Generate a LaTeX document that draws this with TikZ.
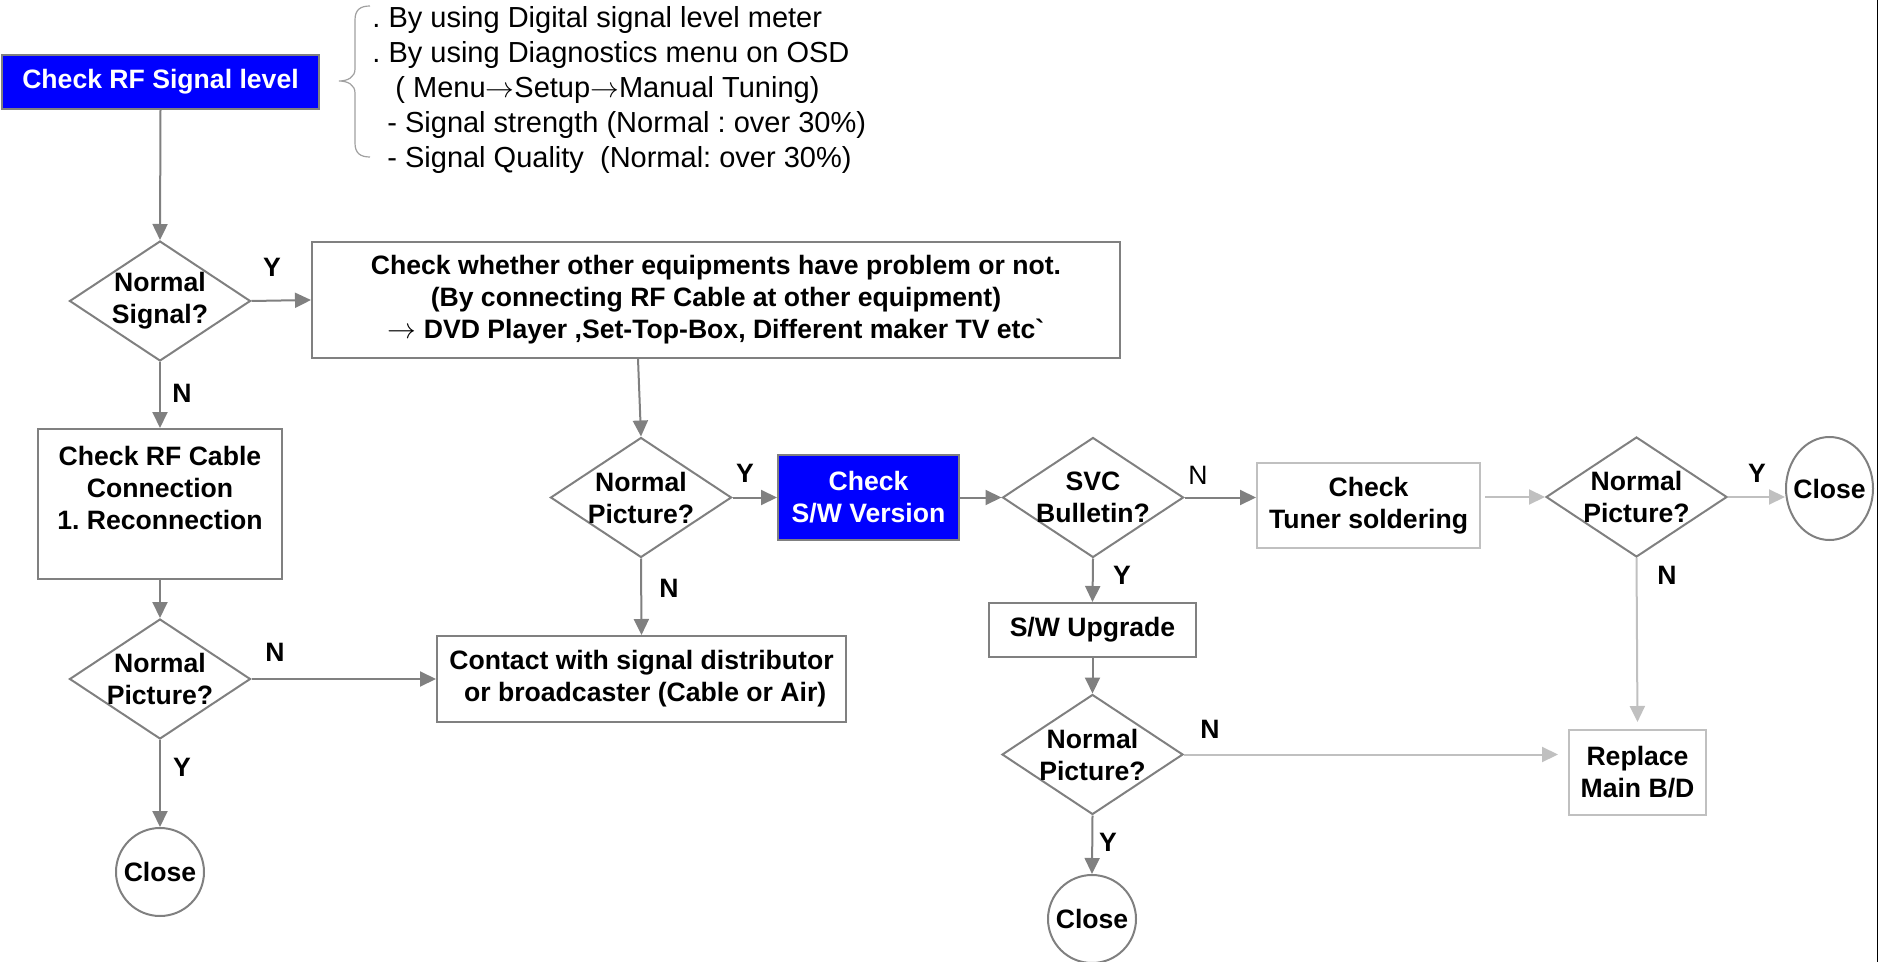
\documentclass[tikz,border=0pt]{standalone}
\usepackage{fontspec}
\setmainfont{Liberation Sans}
\usetikzlibrary{arrows.meta,shapes.geometric,calc}
\frenchspacing
\definecolor{lineg}{HTML}{808080}
\definecolor{lightg}{HTML}{C0C0C0}
\definecolor{braceg}{HTML}{A0A0A0}
\definecolor{boxblue}{HTML}{0000FF}
\newcommand{\boldtxt}{\bfseries\fontsize{13.3}{16}\selectfont}
\newcommand{\twol}[2]{\makebox[0pt]{#1}\\\makebox[0pt]{#2}}
\tikzset{
  box/.style   ={draw=lineg,line width=1pt,font=\boldtxt,align=center,inner sep=0pt},
  hot/.style   ={box,fill=boxblue,text=white},
  pale/.style  ={box,draw=lightg},
  ask/.style   ={diamond,draw=lineg,line width=1pt,font=\boldtxt,align=center,inner sep=0pt,
                 minimum width=90.5pt,minimum height=60pt},
  closer/.style={circle,draw=lineg,line width=1pt,font=\boldtxt,inner sep=0pt,minimum size=44pt},
  note/.style  ={font=\fontsize{14.5}{17.5}\selectfont,align=left,inner sep=0pt},
  curly/.style ={draw=braceg,line width=0.6pt},
  ar/.style    ={draw=lineg,line width=1pt,-{Triangle[length=8pt,width=7.5pt]}},
  arl/.style   ={ar,draw=lightg},
  lbl/.style   ={font=\boldtxt,inner sep=0pt},
}
\begin{document}
\begin{tikzpicture}[x=0.5pt,y=-0.5pt]
  \useasboundingbox (0,0) rectangle (1878,962);
  % left column
  \node[hot,minimum width=158.5pt,minimum height=27pt] (rf) at (160.5,82) {Check RF Signal level};
  \node[note,anchor=west] (notes) at (372,90) {. By using Digital signal level meter\\
    . By using Diagnostics menu on OSD\\
    \hspace*{11.5pt}( Menu$\rightarrow$Setup$\rightarrow$Manual Tuning)\\
    \hspace*{7.5pt}- Signal strength (Normal : over 30\%)\\
    \hspace*{7.5pt}- Signal Quality\ \ (Normal: over 30\%)};
  \draw[curly] (370,6) .. controls (360,6) and (355,10) .. (355,20) -- (355,69)
    .. controls (355,77) and (348,81) .. (339,81) .. controls (348,81) and (355,85) .. (355,93)
    -- (355,143) .. controls (355,153) and (360,157) .. (370,157);
  \node[ask] (sig) at (160,301) {\twol{Normal}{Signal?}};
  \node[box,minimum width=122pt,minimum height=75pt] (cable) at (160,504)
    {Check RF Cable\\Connection\\1. Reconnection\\~};
  \node[ask] (pic1) at (160,679) {\twol{Normal}{Picture?}};
  \node[closer] (end1) at (160,872) {Close};
  % middle
  \node[box,minimum width=404pt,minimum height=58pt] (other) at (716,300)
    {Check whether other equipments have problem or not.\\
     (By connecting RF Cable at other equipment)\\
     $\rightarrow$ DVD Player ,Set-Top-Box, Different maker TV etc\textasciigrave};
  \node[ask] (pic2) at (641,497.5) {\twol{Normal}{Picture?}};
  \node[box,minimum width=204.5pt,minimum height=43pt] (contact) at (641.5,679)
    {Contact with signal distributor\\~or broadcaster (Cable or Air)};
  \node[hot,minimum width=90.5pt,minimum height=42.5pt] (swver) at (868.5,497.5) {Check\\S/W Version};
  % right part
  \node[ask] (svc) at (1093,497.5) {\twol{SVC}{Bulletin?}};
  \node[pale,minimum width=111.5pt,minimum height=42.5pt] (tuner) at (1368.5,505.5) {Check\\Tuner soldering};
  \node[ask] (pic4) at (1636.5,497) {\twol{Normal}{Picture?}};
  \node[closer,ellipse,minimum width=43.5pt,minimum height=51.5pt] (end4) at (1829.5,488.5) {\makebox[0pt]{Close}};
  \node[box,minimum width=103.5pt,minimum height=27pt] (upg) at (1092.5,630) {S/W Upgrade};
  \node[ask] (pic3) at (1092.5,754.5) {\twol{Normal}{Picture?}};
  \node[closer] (end3) at (1092,919) {Close};
  \node[pale,minimum width=68.5pt,minimum height=42.5pt] (repl) at (1637.5,772.5) {Replace\\Main B/D};

  % connectors
  \draw[ar] (rf.south) -- (sig.north);
  \draw[ar] (sig.east) -- (other.west);
  \draw[ar] (sig.south) -- (cable.north);
  \draw[ar] (cable.south) -- (pic1.north);
  \draw[ar] (pic1.east) -- (contact.west);
  \draw[ar] (pic1.south) -- (end1.north);
  \draw[ar] ([xshift=-39pt]other.south) -- (pic2.north);
  \draw[ar] (pic2.east) -- (swver.west);
  \draw[ar] (pic2.south) -- (contact.north);
  \draw[ar] (swver.east) -- (svc.west);
  \draw[ar] (svc.east) -- (svc.east -| tuner.west);
  \draw[ar] (svc.south) -- (upg.north);
  \draw[ar] (upg.south) -- (pic3.north);
  \draw[ar] (pic3.south) -- (end3.north);
  \draw[arl,shorten >=5pt] (pic3.east) -- (pic3.east -| repl.west);
  \draw[arl,shorten <=2pt] (tuner.east |- pic4.west) -- (pic4.west);
  \draw[arl] (pic4.east) -- (pic4.east -| end4.west);
  \draw[arl,shorten >=3.5pt] (pic4.south) -- (repl.north);

  % branch labels
  \node[lbl] (y1) at (272,267) {Y};
  \node[lbl] (n1) at (182,393) {N};
  \node[lbl] (n2) at (275,652) {N};
  \node[lbl] (y2) at (182,767) {Y};
  \node[lbl] (y3) at (745,473) {Y};
  \node[lbl] (n3) at (669,588) {N};
  \node[lbl,font=\fontsize{13.3}{16}\selectfont] (n4) at (1198,475) {N};
  \node[lbl] (y4) at (1122,575) {Y};
  \node[lbl] (n5) at (1210,729) {N};
  \node[lbl] (y5) at (1108,842) {Y};
  \node[lbl] (y6) at (1757,473) {Y};
  \node[lbl] (n6) at (1667,575) {N};

  \draw[line width=1pt] (1877.5,0) -- (1877.5,962);
\end{tikzpicture}
\end{document}
